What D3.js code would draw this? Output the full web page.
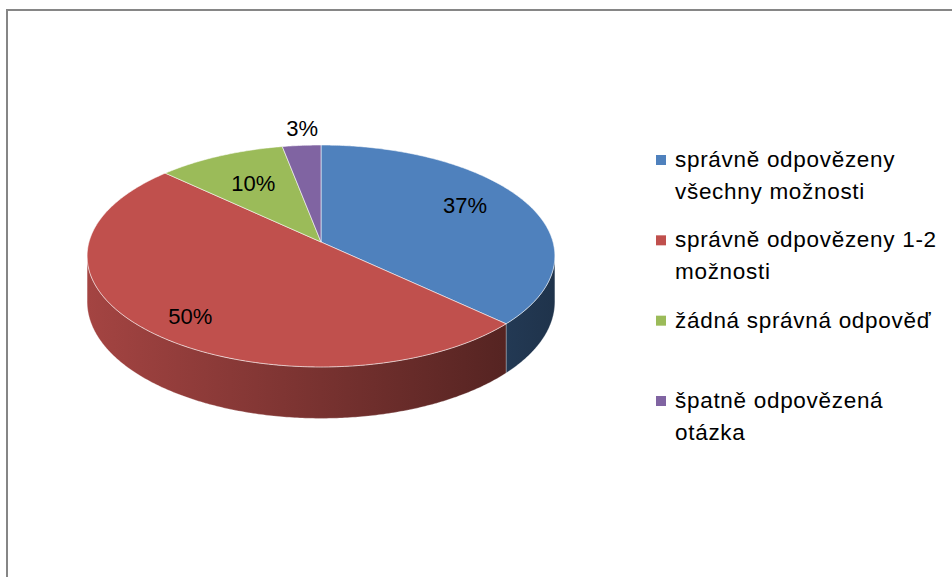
<!DOCTYPE html>
<html lang="cs">
<head>
<meta charset="UTF-8">
<title>3D pie</title>
<style>
  body { margin: 0; background: #fff; }
  svg { display: block; font-family: "Liberation Sans", Arial, sans-serif; }
  .lbl { font-size: 22px; fill: #000; }
  .leg { font-size: 22.5px; fill: #000; letter-spacing: 0.7px; }
</style>
</head>
<body>
<script src="https://d3js.org/d3.v7.min.js"></script>
<script>
// data
const categories = [
  ["správně odpovězeny", "všechny možnosti"],
  ["správně odpovězeny 1-2", "možnosti"],
  ["žádná správná odpověď"],
  ["špatně odpovězená", "otázka"]
];
const values = [37, 50, 10, 3];
const colors = ["#4F81BD", "#C0504D", "#9BBB59", "#8064A2"];

// label placement (fraction of radius + small nudge, like excel does)
const labelRadius = [0.7, 0.7, 0.7, 1.2];
const labelNudge = [[0, -7], [-12, 15], [5, 3], [4, 0]];

const width = 952, height = 577;
const cx = 321, cy = 242;        // apex of the pie (projected centre)
const rx = 232, ry = 109.2;      // radii of the disk
const persp = 0.126;             // perspective strength
const depth = 45;                // thickness of the disk

function project(theta, r, drop) {
  const u = Math.sin(theta) * r, v = -Math.cos(theta) * r;
  const f = 1 / (1 - persp * v);
  return [cx + rx * u * f, cy + ry * v * f + (drop || 0) * f];
}

function arcPoints(a0, a1, r, drop) {
  const n = Math.max(2, Math.ceil(Math.abs(a1 - a0) / 0.01));
  return d3.range(n + 1).map(i => project(a0 + (a1 - a0) * i / n, r, drop));
}

const svg = d3.select("body").append("svg")
  .attr("width", width)
  .attr("height", height);

svg.append("rect")
  .attr("x", 7).attr("y", 10)
  .attr("width", 1000).attr("height", 700)
  .attr("fill", "none")
  .attr("stroke", "#868686")
  .attr("stroke-width", 2);

const pie = d3.pie().sort(null).value(d => d);
const slices = pie(values);
const total = d3.sum(values);
const pct = d3.format(".0%");

// silhouette of the disk: left / right extremes
const grid = d3.range(0, 2 * Math.PI, 0.002);
const xs = grid.map(t => project(t, 1)[0]);
const rightA = grid[d3.maxIndex(xs)];
const leftA = grid[d3.minIndex(xs)];
const xLeft = d3.min(xs), xRight = d3.max(xs);

const line = d3.line();
const defs = svg.append("defs");

colors.forEach((c, i) => {
  const g = defs.append("linearGradient")
    .attr("id", "side" + i)
    .attr("gradientUnits", "userSpaceOnUse")
    .attr("x1", xLeft).attr("x2", xRight)
    .attr("y1", 0).attr("y2", 0);
  g.append("stop").attr("offset", 0).attr("stop-color", d3.color(c).darker(0.45));
  g.append("stop").attr("offset", 1).attr("stop-color", d3.color(c).darker(2.6));
});

// sides (front part only)
const sides = svg.append("g");
slices.forEach((s, i) => {
  const a0 = Math.max(s.startAngle, rightA);
  const a1 = Math.min(s.endAngle, leftA);
  if (a1 <= a0) return;
  const top = arcPoints(a0, a1, 1, 0);
  const bot = arcPoints(a1, a0, 1, depth);
  sides.append("path")
    .attr("d", line(top.concat(bot)) + "Z")
    .attr("fill", `url(#side${i})`)
    .attr("stroke", "rgba(255,255,255,0.35)")
    .attr("stroke-width", 0.8);
});

// top faces
const tops = svg.append("g");
slices.forEach((s, i) => {
  const pts = [[cx, cy]].concat(arcPoints(s.startAngle, s.endAngle, 1, 0));
  tops.append("path")
    .attr("d", line(pts) + "Z")
    .attr("fill", colors[i])
    .attr("stroke", "rgba(255,255,255,0.55)")
    .attr("stroke-width", 1)
    .attr("stroke-linejoin", "round");
});

// data labels
svg.append("g").selectAll("text")
  .data(slices)
  .join("text")
    .attr("class", "lbl")
    .attr("text-anchor", "middle")
    .attr("dy", "0.35em")
    .attr("transform", (d, i) => {
      const p = project((d.startAngle + d.endAngle) / 2, labelRadius[i], 0);
      return `translate(${p[0] + labelNudge[i][0]},${p[1] + labelNudge[i][1]})`;
    })
    .text(d => pct(d.value / total));

// legend
const yItem = d3.scaleLinear().domain([0, categories.length - 1]).range([160, 401]);
const legend = svg.append("g");
const items = legend.selectAll("g")
  .data(categories)
  .join("g")
    .attr("transform", (d, i) => `translate(656,${yItem(i)})`);

items.append("rect")
  .attr("x", 0).attr("y", -5)
  .attr("width", 10).attr("height", 10)
  .attr("fill", (d, i) => colors[i]);

items.append("text")
  .attr("class", "leg")
  .attr("x", 19)
  .attr("y", 7)
  .selectAll("tspan")
  .data(d => d)
  .join("tspan")
    .attr("x", 19)
    .attr("dy", (d, j) => j === 0 ? 0 : 32)
    .text(d => d);
</script>
</body>
</html>
